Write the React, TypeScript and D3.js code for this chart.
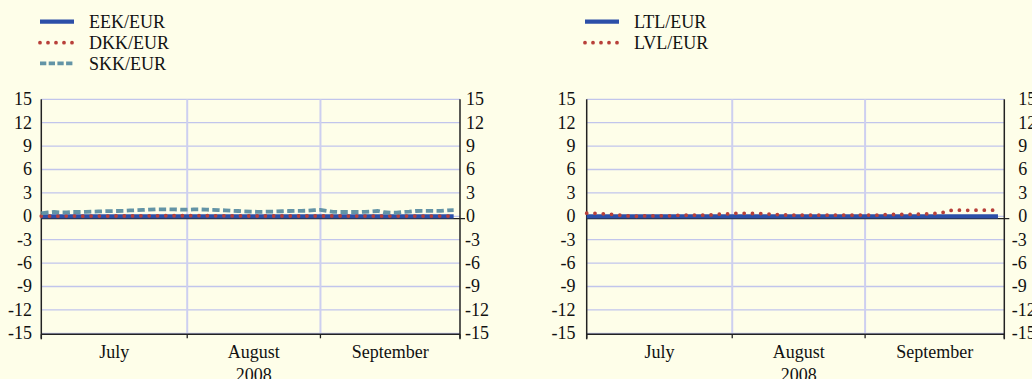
import React from 'react';
import * as d3 from 'd3';

// ---- data ----
const months = ['July', 'August', 'September'];
const monthBusinessDays = [23, 21, 22];
const yearLabel = '2008';
const yTicks = [15, 12, 9, 6, 3, 0, -3, -6, -9, -12, -15];

const eekEur = [
  0, 0, 0, 0, 0, 0, 0, 0, 0, 0, 0, 0, 0, 0, 0, 0, 0, 0, 0, 0, 0, 0, 0,
  0, 0, 0, 0, 0, 0, 0, 0, 0, 0, 0, 0, 0, 0, 0, 0, 0, 0, 0, 0, 0,
  0, 0, 0, 0, 0, 0, 0, 0, 0, 0, 0, 0, 0, 0, 0, 0, 0, 0, 0, 0, 0, 0,
];
const dkkEur = [
  0.03, 0.02, 0.02, 0.02, 0.03, 0.03, 0.02, 0.02, 0.03, 0.03, 0.03, 0.04, 0.04, 0.04, 0.05, 0.05, 0.06, 0.06, 0.06, 0.07, 0.07, 0.07, 0.07,
  0.08, 0.08, 0.08, 0.07, 0.07, 0.06, 0.06, 0.05, 0.05, 0.04, 0.04, 0.04, 0.04, 0.04, 0.04, 0.04, 0.04, 0.04, 0.04, 0.04, 0.04,
  0.04, 0.04, 0.04, 0.04, 0.03, 0.03, 0.03, 0.03, 0.03, 0.03, 0.03, 0.03, 0.03, 0.03, 0.03, 0.03, 0.03, 0.03, 0.03, 0.03, 0.03, 0.03,
];
const skkEur = [
  0.38, 0.5, 0.55, 0.5, 0.5, 0.55, 0.55, 0.58, 0.6, 0.62, 0.65, 0.67, 0.68, 0.7, 0.75, 0.78, 0.82, 0.86, 0.9, 0.9, 0.9, 0.88, 0.85,
  0.85, 0.88, 0.88, 0.85, 0.82, 0.8, 0.76, 0.72, 0.68, 0.62, 0.6, 0.58, 0.58, 0.6, 0.62, 0.65, 0.68, 0.7, 0.7, 0.72, 0.78,
  0.82, 0.7, 0.58, 0.55, 0.55, 0.55, 0.55, 0.58, 0.62, 0.68, 0.52, 0.48, 0.46, 0.55, 0.6, 0.68, 0.7, 0.7, 0.7, 0.7, 0.77, 0.8,
];
const ltlEur = [
  0, 0, 0, 0, 0, 0, 0, 0, 0, 0, 0, 0, 0, 0, 0, 0, 0, 0, 0, 0, 0, 0, 0,
  0, 0, 0, 0, 0, 0, 0, 0, 0, 0, 0, 0, 0, 0, 0, 0, 0, 0, 0, 0, 0,
  0, 0, 0, 0, 0, 0, 0, 0, 0, 0, 0, 0, 0, 0, 0, 0, 0, 0, 0, 0, 0, 0,
];
const lvlEur = [
  0.4, 0.4, 0.35, 0.3, 0.25, 0.15, 0.08, 0.03, 0.0, 0.05, 0.05, 0.05, 0.06, 0.06, 0.1, 0.15, 0.13, 0.15, 0.15, 0.15, 0.2, 0.28, 0.28,
  0.35, 0.4, 0.38, 0.36, 0.36, 0.33, 0.28, 0.23, 0.18, 0.15, 0.15, 0.15, 0.15, 0.15, 0.15, 0.15, 0.15, 0.15, 0.15, 0.15, 0.15,
  0.18, 0.15, 0.15, 0.2, 0.23, 0.23, 0.23, 0.23, 0.27, 0.28, 0.32, 0.36, 0.4, 0.7, 0.78, 0.78, 0.76, 0.78, 0.79, 0.79, 0.79, 0.79,
];

// ---- styles ----
const BG = '#fefee9';
const FONT = "'Liberation Serif', 'Times New Roman', serif";
const FS = 18;
const BLUE = '#2c4fa8';
const RED = '#b8403a';
const TEAL = '#6394a6';

type Series = { name: string; values: number[]; kind: 'solid' | 'dot' | 'dash'; color: string };

const leftSeries: Series[] = [
  { name: 'EEK/EUR', values: eekEur, kind: 'solid', color: BLUE },
  { name: 'DKK/EUR', values: dkkEur, kind: 'dot', color: RED },
  { name: 'SKK/EUR', values: skkEur, kind: 'dash', color: TEAL },
];
const rightSeries: Series[] = [
  { name: 'LTL/EUR', values: ltlEur, kind: 'solid', color: BLUE },
  { name: 'LVL/EUR', values: lvlEur, kind: 'dot', color: RED },
];

function strokeProps(kind: Series['kind'], color: string, legend = false) {
  if (kind === 'solid') return { stroke: color, strokeWidth: 4.2 };
  if (kind === 'dot')
    return { stroke: color, strokeWidth: 3.8, strokeDasharray: legend ? '0 8' : '0 8.3', strokeLinecap: 'round' as const };
  return { stroke: color, strokeWidth: 3.8, strokeDasharray: legend ? '6.3 2.4' : '7.3 3.4' };
}

type PanelProps = {
  series: Series[];
  x0: number;
  x1: number;
  leftLabelX: number;
  rightPosOffset: number;
  rightNegOffset: number;
  legendX: number;
};

const Y_TOP = 99.3;
const Y_BOT = 333.3;

function Panel({ series, x0, x1, leftLabelX, rightPosOffset, rightNegOffset, legendX }: PanelProps) {
  const total = d3.sum(monthBusinessDays);
  const x = d3.scaleLinear().domain([0, total]).range([x0, x1]);
  const y = d3.scaleLinear().domain([-15, 15]).range([Y_BOT, Y_TOP]);
  const boundArr = Array.from(d3.cumsum([0, ...monthBusinessDays]));
  const line = d3
    .line<number>()
    .x((_, i) => x(i))
    .y((d) => y(d));

  const legendRowY = [21.7, 42.7, 63.3];

  return (
    <g>
      {yTicks.map((t) => (
        <line key={'h' + t} x1={x0} x2={x1} y1={y(t)} y2={y(t)} stroke="#c1c5ec" strokeWidth={1.3} />
      ))}
      {boundArr.slice(1, -1).map((b) => (
        <line key={'v' + b} x1={x(b)} x2={x(b)} y1={Y_TOP} y2={Y_BOT} stroke="#cdcff0" strokeWidth={2} />
      ))}
      <line x1={x0} x2={x1 + 5} y1={y(0) + 2.3} y2={y(0) + 2.3} stroke="#222" strokeWidth={1.3} />
      <line x1={x0} x2={x1} y1={Y_BOT + 1} y2={Y_BOT + 1} stroke="#222" strokeWidth={1.5} />
      {boundArr.map((b) => (
        <line key={'t' + b} x1={x(b)} x2={x(b)} y1={Y_BOT + 1} y2={Y_BOT + 5} stroke="#222" strokeWidth={1.3} />
      ))}
      <line x1={x0} x2={x0} y1={Y_TOP} y2={Y_BOT + 6} stroke="#222" strokeWidth={1.5} />
      <line x1={x1} x2={x1} y1={Y_TOP} y2={Y_BOT + 6} stroke="#222" strokeWidth={1.5} />

      {yTicks.map((t) => (
        <text key={'l' + t} x={leftLabelX} y={y(t)} dy="0.33em" textAnchor="end" fontFamily={FONT} fontSize={FS} fill="#111">
          {t}
        </text>
      ))}
      {yTicks.map((t) => (
        <text
          key={'r' + t}
          x={x1 + (t < 0 ? rightNegOffset : rightPosOffset)}
          y={y(t)}
          dy="0.33em"
          textAnchor="start"
          fontFamily={FONT}
          fontSize={FS}
          fill="#111"
        >
          {t}
        </text>
      ))}

      {months.map((m, i) => (
        <text
          key={m}
          x={x((boundArr[i] + boundArr[i + 1]) / 2)}
          y={357.5}
          textAnchor="middle"
          fontFamily={FONT}
          fontSize={FS}
          fill="#111"
        >
          {m}
        </text>
      ))}
      <text x={x((boundArr[1] + boundArr[2]) / 2)} y={380.5} textAnchor="middle" fontFamily={FONT} fontSize={FS} fill="#111">
        {yearLabel}
      </text>

      {series.map((s) => (
        <path key={s.name} d={line(s.values) || ''} fill="none" {...strokeProps(s.kind, s.color)} />
      ))}

      {series.map((s, i) => (
        <g key={'lg' + s.name}>
          <line
            x1={legendX}
            x2={legendX + 34}
            y1={legendRowY[i]}
            y2={legendRowY[i]}
            {...strokeProps(s.kind, s.color, true)}
          />
          <text x={legendX + 49} y={legendRowY[i]} dy="0.35em" fontFamily={FONT} fontSize={FS} fill="#111">
            {s.name}
          </text>
        </g>
      ))}
    </g>
  );
}

export default function App() {
  return (
    <svg
      width={1032}
      height={379}
      style={{ position: 'absolute', left: 0, top: 0, background: BG, display: 'block' }}
    >
      <rect x={0} y={0} width={1032} height={379} fill={BG} />
      <Panel
        series={leftSeries}
        x0={41.3}
        x1={460}
        leftLabelX={32}
        rightPosOffset={6}
        rightNegOffset={5}
        legendX={40}
      />
      <Panel
        series={rightSeries}
        x0={586.7}
        x1={1004.3}
        leftLabelX={575.5}
        rightPosOffset={14}
        rightNegOffset={7.5}
        legendX={585}
      />
    </svg>
  );
}
